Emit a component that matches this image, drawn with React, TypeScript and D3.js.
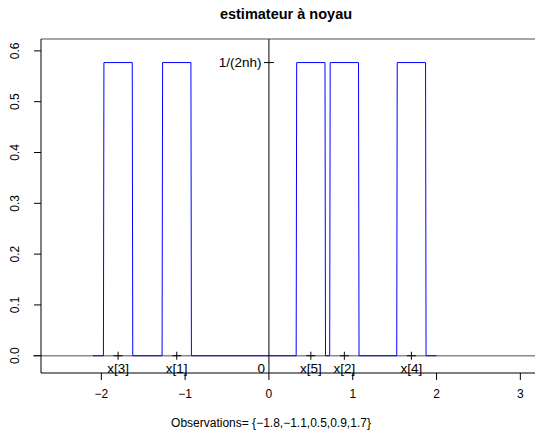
import React from "react";
import * as d3 from "d3";

// observations (as printed below the plot) and the index label shown under each
const observations = [-1.8, -1.1, 0.5, 0.9, 1.7];
const obsLabels = ["x[3]", "x[1]", "x[5]", "x[2]", "x[4]"];
const kernelHeight = 0.577;

// rectangular-kernel estimate
const densityX = [
  -2.1, -1.975, -1.969, -1.631, -1.625, -1.275, -1.269, -0.931, -0.925,
  0.325, 0.331, 0.669, 0.675, 0.725, 0.731, 1.069, 1.075, 1.525, 1.531,
  1.869, 1.875, 2.0,
];
const densityY = [
  0, 0, 0.577, 0.577, 0, 0, 0.577, 0.577, 0,
  0, 0.577, 0.577, 0, 0, 0.577, 0.577, 0, 0, 0.577,
  0.577, 0, 0,
];

const xTicks = [-2, -1, 0, 1, 2, 3];
const yTicks = [0, 0.1, 0.2, 0.3, 0.4, 0.5, 0.6];

const W = 535;
const H = 437;
const font = "'Liberation Sans', Arial, Helvetica, sans-serif";
const minus = (s: string) => s.replace(/-/g, "\u2212");

const App = () => {
  const x = d3.scaleLinear().domain([-2.72, 3.175]).range([41, 535]);
  const y = d3.scaleLinear().domain([-0.034, 0.6234]).range([373, 39]);

  const pts = densityX.map((d, i) => [d, densityY[i]] as [number, number]);
  const line = d3
    .line<[number, number]>()
    .x(d => x(d[0]))
    .y(d => y(d[1]));

  const fmtY = d3.format(".1f");
  const obsText =
    "Observations= {" + observations.map(d => minus(String(d))).join(",") + "}";

  return (
    <svg
      width={W}
      height={H}
      style={{ position: "absolute", left: 0, top: 0, background: "#fff" }}
      fontFamily={font}
    >
      <text x={286} y={19} textAnchor="middle" fontSize={14.5} fontWeight="bold">
        estimateur à noyau
      </text>

      {/* gray reference lines */}
      <line x1={41} x2={W} y1={y(0.6234)} y2={y(0.6234)} stroke="#8a8a8a" strokeWidth={1.6} />
      <line x1={33} x2={W} y1={y(0)} y2={y(0)} stroke="#8a8a8a" strokeWidth={1.6} />

      {/* axes frame */}
      <line x1={41} x2={41} y1={39} y2={373} stroke="#000" />
      <line x1={41} x2={W} y1={373} y2={373} stroke="#000" />

      {yTicks.map(t => (
        <g key={t}>
          <line x1={34} x2={41} y1={y(t)} y2={y(t)} stroke="#000" />
          <text
            transform={`translate(15,${y(t)}) rotate(-90)`}
            dy="0.35em"
            textAnchor="middle"
            fontSize={12}
          >
            {fmtY(t)}
          </text>
        </g>
      ))}

      {xTicks.map(t => (
        <g key={t}>
          <line x1={x(t)} x2={x(t)} y1={373} y2={380} stroke="#000" />
          <text x={x(t)} y={397.5} textAnchor="middle" fontSize={12}>
            {minus(String(t))}
          </text>
        </g>
      ))}

      {/* kernel estimate */}
      <path d={line(pts) || ""} fill="none" stroke="#0000ff" strokeWidth={1} />

      {/* vertical at 0 */}
      <line x1={x(0)} x2={x(0)} y1={39} y2={373} stroke="#000" />

      {/* 1/(2nh) marker */}
      <line x1={x(0) - 5} x2={x(0) + 5} y1={y(kernelHeight)} y2={y(kernelHeight)} stroke="#000" />
      <text x={261.5} y={y(kernelHeight)} dy="0.35em" textAnchor="end" fontSize={13.5}>
        1/(2nh)
      </text>

      {/* observations */}
      {observations.map((o, i) => (
        <g key={i}>
          <line x1={x(o) - 4.5} x2={x(o) + 4.5} y1={y(0)} y2={y(0)} stroke="#000" />
          <line x1={x(o)} x2={x(o)} y1={y(0) - 4} y2={y(0) + 4} stroke="#000" />
          <text x={x(o)} y={368} dy="0.35em" textAnchor="middle" fontSize={13.5}>
            {obsLabels[i]}
          </text>
        </g>
      ))}
      <text x={265} y={368} dy="0.35em" textAnchor="end" fontSize={13.5}>
        0
      </text>

      <text x={271} y={423} dy="0.35em" textAnchor="middle" fontSize={12}>
        {obsText}
      </text>
    </svg>
  );
};

export default App;
